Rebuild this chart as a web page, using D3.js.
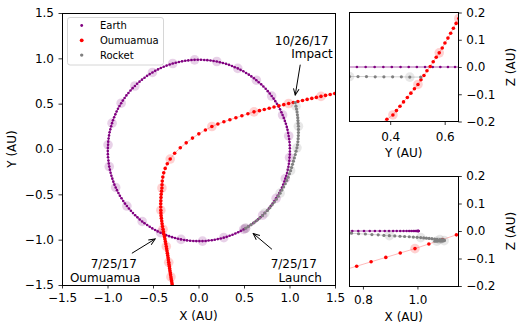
<!DOCTYPE html>
<html>
<head>
<meta charset="utf-8">
<script src="https://d3js.org/d3.v7.min.js"></script>
<style>
  body { margin: 0; background: #fff; }
  svg { display: block; font-family: "DejaVu Sans", sans-serif; }
</style>
</head>
<body>
<svg id="chart" width="520" height="327"></svg>
<script>
// positions in AU as [x, y, z], one point every 2 days, halo every 7th point
const earthPts = [
  [0.517,-0.874,0],[0.547,-0.856,0],[0.574,-0.838,0],[0.602,-0.818,0],[0.629,-0.797,0],[0.655,-0.776,0],[0.680,-0.753,0],
  [0.705,-0.730,0],[0.728,-0.706,0],[0.752,-0.681,0],[0.774,-0.655,0],[0.794,-0.628,0],[0.815,-0.601,0],[0.834,-0.573,0],
  [0.853,-0.544,0],[0.870,-0.515,0],[0.887,-0.485,0],[0.903,-0.455,0],[0.917,-0.424,0],[0.931,-0.392,0],[0.944,-0.359,0],
  [0.954,-0.327,0],[0.964,-0.297,0],[0.973,-0.264,0],[0.981,-0.230,0],[0.988,-0.197,0],[0.993,-0.163,0],[0.998,-0.130,0],
  [1.000,-0.095,0],[1.003,-0.061,0],[1.004,-0.027,0],[1.004,0.008,0],[1.003,0.042,0],[1.000,0.076,0],[0.996,0.110,0],
  [0.991,0.144,0],[0.985,0.177,0],[0.978,0.211,0],[0.970,0.244,0],[0.960,0.278,0],[0.949,0.310,0],[0.937,0.343,0],
  [0.924,0.375,0],[0.911,0.406,0],[0.896,0.438,0],[0.880,0.468,0],[0.862,0.498,0],[0.844,0.528,0],[0.825,0.556,0],
  [0.804,0.584,0],[0.783,0.612,0],[0.761,0.638,0],[0.738,0.664,0],[0.713,0.689,0],[0.689,0.713,0],[0.662,0.736,0],
  [0.636,0.759,0],[0.610,0.780,0],[0.581,0.801,0],[0.553,0.820,0],[0.523,0.839,0],[0.493,0.857,0],[0.462,0.873,0],
  [0.432,0.889,0],[0.399,0.902,0],[0.368,0.916,0],[0.335,0.928,0],[0.302,0.939,0],[0.268,0.949,0],[0.235,0.957,0],
  [0.201,0.965,0],[0.166,0.971,0],[0.132,0.976,0],[0.097,0.980,0],[0.063,0.982,0],[0.027,0.984,0],[-0.008,0.984,0],
  [-0.043,0.983,0],[-0.077,0.981,0],[-0.112,0.977,0],[-0.146,0.973,0],[-0.181,0.967,0],[-0.215,0.960,0],[-0.250,0.951,0],
  [-0.283,0.943,0],[-0.316,0.932,0],[-0.350,0.920,0],[-0.382,0.907,0],[-0.414,0.893,0],[-0.445,0.878,0],[-0.476,0.862,0],
  [-0.506,0.844,0],[-0.536,0.826,0],[-0.565,0.807,0],[-0.593,0.786,0],[-0.621,0.765,0],[-0.648,0.743,0],[-0.675,0.720,0],
  [-0.699,0.695,0],[-0.724,0.671,0],[-0.747,0.645,0],[-0.770,0.618,0],[-0.792,0.591,0],[-0.812,0.563,0],[-0.832,0.534,0],
  [-0.850,0.505,0],[-0.868,0.475,0],[-0.885,0.444,0],[-0.900,0.413,0],[-0.914,0.382,0],[-0.927,0.350,0],[-0.940,0.317,0],
  [-0.950,0.285,0],[-0.960,0.251,0],[-0.969,0.217,0],[-0.977,0.184,0],[-0.983,0.150,0],[-0.988,0.115,0],[-0.992,0.081,0],
  [-0.994,0.046,0],[-0.996,0.012,0],[-0.997,-0.023,0],[-0.996,-0.057,0],[-0.994,-0.091,0],[-0.990,-0.127,0],[-0.986,-0.160,0],
  [-0.981,-0.194,0],[-0.974,-0.228,0],[-0.966,-0.262,0],[-0.957,-0.295,0],[-0.947,-0.327,0],[-0.936,-0.360,0],[-0.924,-0.393,0],
  [-0.910,-0.424,0],[-0.896,-0.454,0],[-0.880,-0.486,0],[-0.864,-0.515,0],[-0.846,-0.544,0],[-0.827,-0.574,0],[-0.808,-0.602,0],
  [-0.787,-0.629,0],[-0.765,-0.656,0],[-0.743,-0.681,0],[-0.720,-0.707,0],[-0.696,-0.731,0],[-0.671,-0.754,0],[-0.646,-0.777,0],
  [-0.619,-0.799,0],[-0.593,-0.819,0],[-0.564,-0.839,0],[-0.536,-0.858,0],[-0.508,-0.876,0],[-0.477,-0.893,0],[-0.448,-0.909,0],
  [-0.417,-0.923,0],[-0.386,-0.937,0],[-0.355,-0.950,0],[-0.323,-0.961,0],[-0.290,-0.972,0],[-0.258,-0.982,0],[-0.225,-0.990,0],
  [-0.192,-0.997,0],[-0.158,-1.003,0],[-0.126,-1.008,0],[-0.092,-1.012,0],[-0.057,-1.014,0],[-0.024,-1.016,0],[0.010,-1.016,0],
  [0.044,-1.016,0],[0.078,-1.014,0],[0.111,-1.010,0],[0.146,-1.006,0],[0.179,-1.001,0],[0.212,-0.994,0],[0.245,-0.987,0],
  [0.278,-0.978,0],[0.310,-0.969,0],[0.342,-0.957,0],[0.374,-0.946,0],[0.405,-0.932,0],[0.436,-0.918,0],[0.466,-0.903,0],
  [0.496,-0.887,0]
];

// z is only read where the insets show it
const oumuamuaPts = [
  [-0.277,-1.565,null],[-0.281,-1.543,null],[-0.285,-1.521,null],[-0.289,-1.499,null],[-0.292,-1.477,null],[-0.296,-1.455,null],[-0.300,-1.433,null],
  [-0.303,-1.411,null],[-0.307,-1.388,null],[-0.310,-1.365,null],[-0.314,-1.342,null],[-0.317,-1.319,null],[-0.320,-1.296,null],[-0.324,-1.273,null],
  [-0.327,-1.250,null],[-0.331,-1.225,null],[-0.334,-1.200,null],[-0.338,-1.175,null],[-0.342,-1.150,null],[-0.346,-1.125,null],[-0.350,-1.100,null],
  [-0.354,-1.075,null],[-0.359,-1.048,null],[-0.364,-1.021,null],[-0.369,-0.994,null],[-0.374,-0.967,null],[-0.380,-0.940,null],[-0.385,-0.912,null],
  [-0.390,-0.885,null],[-0.396,-0.855,null],[-0.400,-0.825,null],[-0.404,-0.795,null],[-0.408,-0.765,null],[-0.411,-0.735,null],[-0.413,-0.705,null],
  [-0.414,-0.675,null],[-0.415,-0.640,null],[-0.415,-0.605,null],[-0.414,-0.570,null],[-0.412,-0.535,null],[-0.410,-0.500,null],[-0.406,-0.465,null],
  [-0.402,-0.430,null],[-0.401,-0.394,null],[-0.398,-0.354,null],[-0.392,-0.310,null],[-0.382,-0.263,null],[-0.366,-0.214,null],[-0.343,-0.163,null],
  [-0.311,-0.111,null],[-0.262,-0.047,null],[-0.200,0.013,null],[-0.135,0.068,null],[-0.066,0.120,null],[0.004,0.167,null],[0.076,0.210,null],
  [0.147,0.248,-0.288],[0.213,0.276,-0.272],[0.279,0.300,-0.256],[0.345,0.323,-0.240],[0.411,0.345,-0.224],[0.477,0.366,-0.208],[0.543,0.388,-0.192],
  [0.610,0.410,-0.176],[0.670,0.423,-0.160],[0.723,0.436,-0.144],[0.777,0.449,-0.128],[0.830,0.463,-0.112],[0.884,0.476,-0.096],[0.937,0.489,-0.080],
  [0.991,0.502,-0.064],[1.042,0.513,-0.047],[1.092,0.524,-0.031],[1.143,0.535,-0.014],[1.194,0.547,0.002],[1.245,0.558,0.019],[1.295,0.569,0.036],
  [1.346,0.580,0.052],[1.396,0.591,0.070],[1.447,0.601,0.088],[1.497,0.612,0.106],[1.547,0.622,0.124],[1.597,0.632,0.142],[1.647,0.642,0.160],
  [1.697,0.652,0.178],[1.747,0.662,0.196],[1.796,0.672,0.214]
];

const rocketPts = [
  [0.517,-0.874,0],[0.545,-0.857,-0.001],[0.578,-0.835,-0.002],[0.611,-0.812,-0.003],[0.642,-0.787,-0.004],[0.672,-0.762,-0.005],[0.702,-0.735,-0.006],
  [0.730,-0.706,-0.007],[0.758,-0.678,-0.008],[0.784,-0.647,-0.010],[0.809,-0.616,-0.011],[0.833,-0.585,-0.013],[0.856,-0.554,-0.014],[0.877,-0.521,-0.016],
  [0.897,-0.487,-0.017],[0.917,-0.453,-0.018],[0.936,-0.419,-0.019],[0.953,-0.383,-0.020],[0.970,-0.347,-0.021],[0.985,-0.311,-0.022],[0.999,-0.273,-0.023],
  [1.012,-0.239,-0.024],[1.023,-0.204,-0.025],[1.033,-0.169,-0.026],[1.043,-0.134,-0.027],[1.053,-0.098,-0.028],[1.063,-0.061,-0.029],[1.072,-0.024,-0.030],
  [1.082,0.013,-0.031],[1.088,0.046,-0.032],[1.092,0.080,-0.032],[1.095,0.114,-0.033],[1.097,0.148,-0.033],[1.098,0.182,-0.034],[1.098,0.216,-0.034],
  [1.098,0.251,-0.035],[1.095,0.282,-0.035],[1.093,0.313,-0.035],[1.091,0.345,-0.036],[1.087,0.377,-0.036],[1.083,0.409,-0.036],[1.077,0.441,-0.036],
  [1.071,0.472,-0.037],[1.064,0.512,-0.037]
];

// the zoomed panels only show Earth for this stretch of its orbit, without halos
const earthInsetRange = [28, 60];

const mainTicks = [-1.5, -1.0, -0.5, 0.0, 0.5, 1.0, 1.5];
const zTicks = [-0.2, -0.1, 0.0, 0.1, 0.2];
const topInsetTicks = [0.4, 0.6];
const bottomInsetTicks = [0.8, 1.0];

// [lines, text anchor points (AU), arrow tail, arrow tip]
const notes = [
  { lines: ["10/26/17", "Impact"], at: [[1.431, 1.150], [1.475, 1.007]], tail: [1.118, 0.93], tip: [1.063, 0.595] },
  { lines: ["7/25/17", "Oumuamua"], at: [[-0.677, -1.315], [-0.640, -1.463]], tail: [-0.732, -1.150], tip: [-0.476, -0.992] },
  { lines: ["7/25/17", "Launch"], at: [[1.301, -1.315], [1.356, -1.463]], tail: [0.807, -1.106], tip: [0.601, -0.932] }
];

const series = [
  { name: "Earth", data: earthPts, color: "#800080", r: 1.3, lineOp: 0.8, insetRange: earthInsetRange, insetHalos: false },
  { name: "Oumuamua", data: oumuamuaPts, color: "#ff0000", r: 1.8, lineOp: 0.35, insetRange: null, insetHalos: true },
  { name: "Rocket", data: rocketPts, color: "#808080", r: 1.6, lineOp: 0.45, insetRange: null, insetHalos: true }
];

const svg = d3.select("#chart");
const fmt = d3.format(".1f");

function styleAxis(g) {
  g.select(".domain").remove();
  g.attr("font-family", "DejaVu Sans").attr("font-size", 12);
  g.selectAll(".tick line").attr("stroke", "#000").attr("stroke-width", 0.8);
  g.selectAll(".tick text").attr("fill", "#000");
}

function panel(p) {
  const sx = d3.scaleLinear().domain(p.xDomain).range([p.left, p.right]);
  const sy = d3.scaleLinear().domain(p.yDomain).range([p.bottom, p.top]);

  svg.append("clipPath").attr("id", p.id).append("rect")
     .attr("x", p.left).attr("y", p.top)
     .attr("width", p.right - p.left).attr("height", p.bottom - p.top);

  const g = svg.append("g").attr("clip-path", `url(#${p.id})`);

  series.forEach(s => {
    const keep = (d, i) => d[p.yi] != null &&
      (!p.inset || !s.insetRange || (i >= s.insetRange[0] && i <= s.insetRange[1]));
    const pts = s.data.filter(keep);
    const halos = (p.inset && !s.insetHalos) ? [] : s.data.filter((d, i) => i % 7 === 0 && keep(d, i));

    g.append("g").selectAll("circle")
     .data(halos)
     .enter()
     .append("circle")
     .attr("cx", d => sx(d[p.xi]))
     .attr("cy", d => sy(d[p.yi]))
     .attr("r", 4.8)
     .attr("fill", s.color)
     .attr("fill-opacity", 0.18);

    g.append("path")
     .datum(pts)
     .attr("fill", "none")
     .attr("stroke", s.color)
     .attr("stroke-opacity", s.lineOp)
     .attr("stroke-width", 0.8)
     .attr("d", d3.line().x(d => sx(d[p.xi])).y(d => sy(d[p.yi])));

    g.append("g").selectAll("circle")
     .data(pts)
     .enter()
     .append("circle")
     .attr("cx", d => sx(d[p.xi]))
     .attr("cy", d => sy(d[p.yi]))
     .attr("r", s.r)
     .attr("fill", s.color);
  });

  svg.append("g")
     .attr("transform", `translate(0,${p.bottom})`)
     .call(d3.axisBottom(sx).tickValues(p.xTicks).tickFormat(fmt).tickSize(3.5).tickPadding(p.xPad))
     .call(styleAxis);

  const yAxis = p.ySide === "left" ? d3.axisLeft(sy) : d3.axisRight(sy);
  svg.append("g")
     .attr("transform", `translate(${p.ySide === "left" ? p.left : p.right},0)`)
     .call(yAxis.tickValues(p.yTicks).tickFormat(fmt).tickSize(3.5).tickPadding(4.5))
     .call(styleAxis);

  svg.append("rect")
     .attr("x", p.left).attr("y", p.top)
     .attr("width", p.right - p.left).attr("height", p.bottom - p.top)
     .attr("fill", "none").attr("stroke", "#000").attr("stroke-width", 1)
     .attr("shape-rendering", "crispEdges");

  svg.append("text")
     .attr("x", (p.left + p.right) / 2).attr("y", p.xLabelY)
     .attr("text-anchor", "middle").attr("font-size", 12)
     .text(p.xLabel);

  const cy = (p.top + p.bottom) / 2;
  svg.append("text")
     .attr("transform", `translate(${p.yLabelX},${cy}) rotate(-90)`)
     .attr("text-anchor", "middle").attr("font-size", 12)
     .text(p.yLabel);

  return { sx, sy };
}

const main = panel({
  id: "clip-main", inset: false, left: 62, right: 335, top: 13, bottom: 285,
  xDomain: [-1.5, 1.5], yDomain: [-1.5, 1.5], xi: 0, yi: 1,
  xTicks: mainTicks, yTicks: mainTicks, xPad: 4.5, ySide: "left",
  xLabel: "X (AU)", xLabelY: 320, yLabel: "Y (AU)", yLabelX: 16
});

panel({
  id: "clip-yz", inset: true, left: 349.3, right: 458.3, top: 12.5, bottom: 121.5,
  xDomain: [0.25, 0.65], yDomain: [-0.2, 0.2], xi: 1, yi: 2,
  xTicks: topInsetTicks, yTicks: zTicks, xPad: 7.5, ySide: "right",
  xLabel: "Y (AU)", xLabelY: 157, yLabel: "Z (AU)", yLabelX: 514.5
});

panel({
  id: "clip-xz", inset: true, left: 349.3, right: 458.3, top: 176, bottom: 286,
  xDomain: [0.75, 1.15], yDomain: [-0.2, 0.2], xi: 0, yi: 2,
  xTicks: bottomInsetTicks, yTicks: zTicks, xPad: 5.5, ySide: "right",
  xLabel: "X (AU)", xLabelY: 320.5, yLabel: "Z (AU)", yLabelX: 514.5
});

// legend
const legend = svg.append("g");
legend.append("rect")
      .attr("x", 67.5).attr("y", 17.5).attr("width", 96).attr("height", 47.5)
      .attr("rx", 2.5).attr("fill", "#fff").attr("fill-opacity", 0.8)
      .attr("stroke", "#cccccc").attr("stroke-width", 0.8);
series.forEach((s, i) => {
  const ly = 25.5 + i * 14.8;
  legend.append("circle").attr("cx", 81.7).attr("cy", ly).attr("r", s.r + 0.1).attr("fill", s.color);
  legend.append("text").attr("x", 100).attr("y", ly).attr("dy", "0.35em")
        .attr("font-size", 10).text(s.name);
});

// annotations
const defs = svg.append("defs");
defs.append("marker")
    .attr("id", "head").attr("viewBox", "0 0 10 10")
    .attr("refX", 9).attr("refY", 5)
    .attr("markerWidth", 8).attr("markerHeight", 8)
    .attr("markerUnits", "userSpaceOnUse").attr("orient", "auto")
    .append("path").attr("d", "M1,1.5 L9,5 L1,8.5")
    .attr("fill", "none").attr("stroke", "#000").attr("stroke-width", 1.2);

notes.forEach(n => {
  svg.append("line")
     .attr("x1", main.sx(n.tail[0])).attr("y1", main.sy(n.tail[1]))
     .attr("x2", main.sx(n.tip[0])).attr("y2", main.sy(n.tip[1]))
     .attr("stroke", "#000").attr("stroke-width", 1)
     .attr("marker-end", "url(#head)");
  n.lines.forEach((t, i) => {
    svg.append("text")
       .attr("x", main.sx(n.at[i][0])).attr("y", main.sy(n.at[i][1]))
       .attr("text-anchor", "end").attr("font-size", 12)
       .text(t);
  });
});
</script>
</body>
</html>
